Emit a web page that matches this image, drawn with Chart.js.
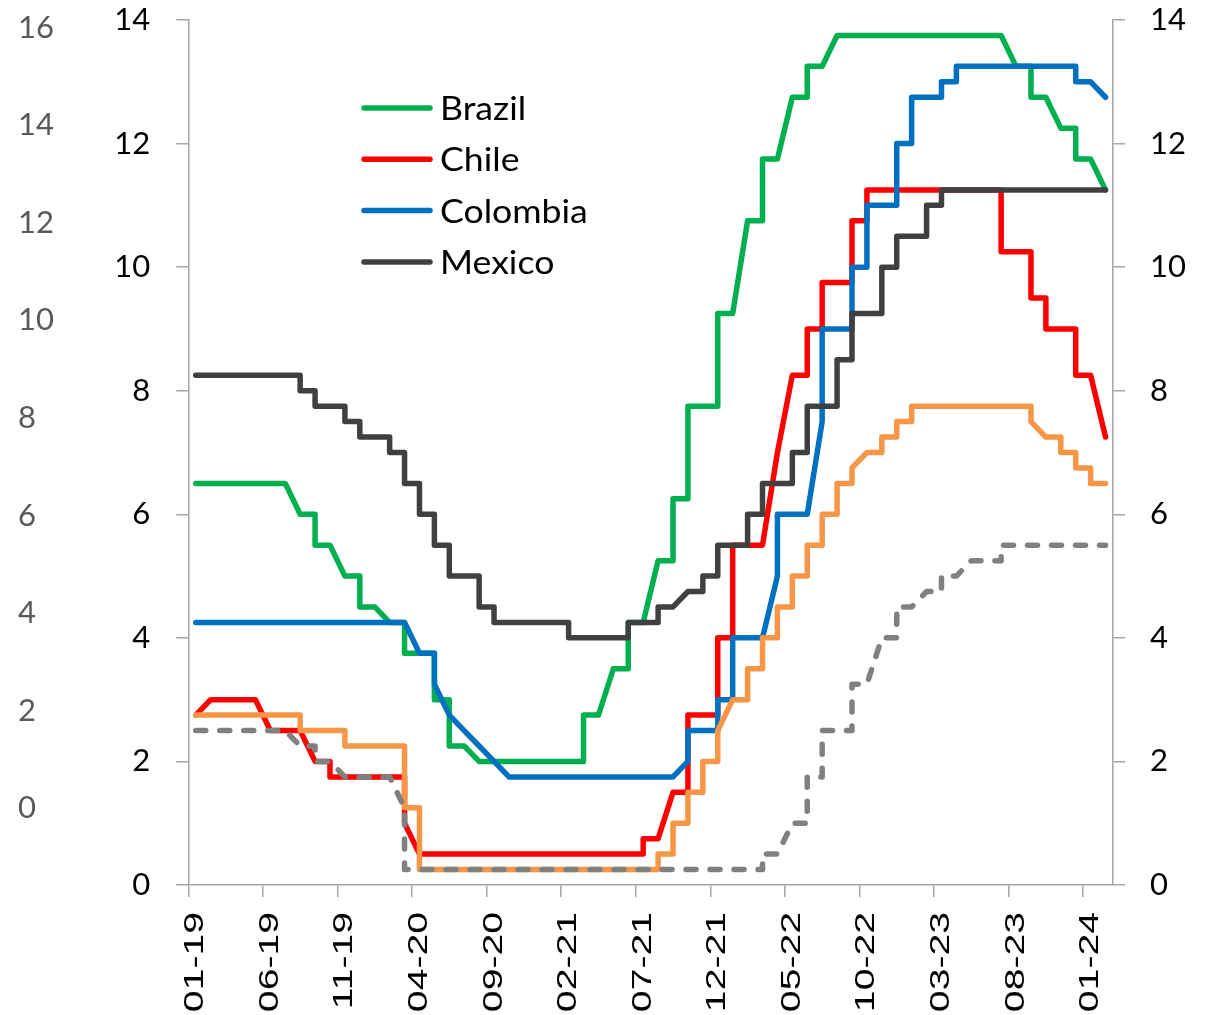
<!DOCTYPE html>
<html>
<head>
<meta charset="utf-8">
<title>Policy rates</title>
<script src="https://cdn.jsdelivr.net/npm/chart.js@4.4.1/dist/chart.umd.min.js"></script>
<style>
  html, body { margin: 0; padding: 0; background: #ffffff; }
  #wrap { width: 1218px; height: 1015px; }
</style>
</head>
<body>
<div id="wrap"><canvas id="chart" width="1218" height="1015"></canvas></div>
<script>
// Monthly policy rates, Jan 2019 .. Feb 2024 (one entry per month).
// A month with a rate decision lists the rate before and after it.
const brazil = [
  6.5, 6.5, 6.5, 6.5, 6.5, 6.5, 6.5, 6.0, [6.0, 5.5], 5.5, 5.0, [5.0, 4.5],
  4.5, 4.25, [4.25, 3.75], 3.75, [3.75, 3.0], [3.0, 2.25], 2.25, 2.0, 2.0, 2.0, 2.0, 2.0,
  2.0, 2.0, [2.0, 2.75], 2.75, 3.5, [3.5, 4.25], 4.25, 5.25, [5.25, 6.25], [6.25, 7.75], 7.75, [7.75, 9.25],
  9.25, 10.75, [10.75, 11.75], 11.75, 12.75, [12.75, 13.25], 13.25, 13.75, 13.75, 13.75, 13.75, 13.75,
  13.75, 13.75, 13.75, 13.75, 13.75, 13.75, 13.75, 13.25, [13.25, 12.75], 12.75, 12.25, [12.25, 11.75],
  11.75, 11.25
];
const chile = [
  2.75, 3.0, 3.0, 3.0, 3.0, 2.5, 2.5, 2.5, 2.0, [2.0, 1.75], 1.75, 1.75,
  1.75, 1.75, [1.75, 1.0], 0.5, 0.5, 0.5, 0.5, 0.5, 0.5, 0.5, 0.5, 0.5,
  0.5, 0.5, 0.5, 0.5, 0.5, 0.5, [0.5, 0.75], 0.75, 1.5, [1.5, 2.75], 2.75, [2.75, 4.0],
  [4.0, 5.5], 5.5, 5.5, 7.0, 8.25, [8.25, 9.0], [9.0, 9.75], 9.75, [9.75, 10.75], [10.75, 11.25], 11.25, 11.25,
  11.25, 11.25, 11.25, 11.25, 11.25, 11.25, [11.25, 10.25], 10.25, [10.25, 9.5], [9.5, 9.0], 9.0, [9.0, 8.25],
  8.25, 7.25
];
const colombia = [
  4.25, 4.25, 4.25, 4.25, 4.25, 4.25, 4.25, 4.25, 4.25, 4.25, 4.25, 4.25,
  4.25, 4.25, 4.25, 3.75, [3.75, 3.25], 2.75, 2.5, 2.25, 2.0, 1.75, 1.75, 1.75,
  1.75, 1.75, 1.75, 1.75, 1.75, 1.75, 1.75, 1.75, 1.75, [2.0, 2.5], 2.5, [2.5, 3.0],
  [3.0, 4.0], 4.0, 4.0, [5.0, 6.0], 6.0, 6.0, [7.5, 9.0], 9.0, [9.0, 10.0], [10.0, 11.0], 11.0, [11.0, 12.0],
  [12.0, 12.75], 12.75, [12.75, 13.0], [13.0, 13.25], 13.25, 13.25, 13.25, 13.25, 13.25, 13.25, 13.25, [13.25, 13.0],
  13.0, 12.75
];
const mexico = [
  8.25, 8.25, 8.25, 8.25, 8.25, 8.25, 8.25, [8.25, 8.0], [8.0, 7.75], 7.75, [7.75, 7.5], [7.5, 7.25],
  7.25, [7.25, 7.0], [7.0, 6.5], [6.5, 6.0], [6.0, 5.5], [5.5, 5.0], 5.0, [5.0, 4.5], [4.5, 4.25], 4.25, 4.25, 4.25,
  4.25, [4.25, 4.0], 4.0, 4.0, 4.0, [4.0, 4.25], 4.25, [4.25, 4.5], 4.5, 4.75, [4.75, 5.0], [5.0, 5.5],
  5.5, [5.5, 6.0], [6.0, 6.5], 6.5, [6.5, 7.0], [7.0, 7.75], 7.75, [7.75, 8.5], [8.5, 9.25], 9.25, [9.25, 10.0], [10.0, 10.5],
  10.5, [10.5, 11.0], [11.0, 11.25], 11.25, 11.25, 11.25, 11.25, 11.25, 11.25, 11.25, 11.25, 11.25,
  11.25, 11.25
];
const peru = [
  2.75, 2.75, 2.75, 2.75, 2.75, 2.75, 2.75, [2.75, 2.5], 2.5, 2.5, [2.5, 2.25], 2.25,
  2.25, 2.25, [2.25, 1.25], [1.25, 0.25], 0.25, 0.25, 0.25, 0.25, 0.25, 0.25, 0.25, 0.25,
  0.25, 0.25, 0.25, 0.25, 0.25, 0.25, 0.25, [0.25, 0.5], [0.5, 1.0], [1.0, 1.5], [1.5, 2.0], [2.0, 2.5],
  3.0, [3.0, 3.5], [3.5, 4.0], [4.0, 4.5], [4.5, 5.0], [5.0, 5.5], [5.5, 6.0], [6.0, 6.5], [6.5, 6.75], 7.0, [7.0, 7.25], [7.25, 7.5],
  [7.5, 7.75], 7.75, 7.75, 7.75, 7.75, 7.75, 7.75, 7.75, [7.75, 7.5], 7.25, [7.25, 7.0], [7.0, 6.75],
  [6.75, 6.5], 6.5
];
const usFed = [
  2.5, 2.5, 2.5, 2.5, 2.5, 2.5, 2.5, 2.25, [2.25, 2.0], 2.0, 1.75, 1.75,
  1.75, 1.75, [1.25, 0.25], 0.25, 0.25, 0.25, 0.25, 0.25, 0.25, 0.25, 0.25, 0.25,
  0.25, 0.25, 0.25, 0.25, 0.25, 0.25, 0.25, 0.25, 0.25, 0.25, 0.25, 0.25,
  0.25, 0.25, [0.25, 0.5], 0.5, 1.0, [1.0, 1.75], [1.75, 2.5], 2.5, [2.5, 3.25], 3.25, 4.0, [4.0, 4.5],
  4.5, 4.75, [4.75, 5.0], 5.0, 5.25, 5.25, [5.25, 5.5], 5.5, 5.5, 5.5, 5.5, 5.5,
  5.5, 5.5
];

// Axis ticks
const xTickValues = [0, 5, 10, 15, 20, 25, 30, 35, 40, 45, 50, 55, 60];
const xTickLabels = ['01-19', '06-19', '11-19', '04-20', '09-20', '02-21', '07-21',
                     '12-21', '05-22', '10-22', '03-23', '08-23', '01-24'];
const rateTicks = [0, 2, 4, 6, 8, 10, 12, 14];
const outerTicks = [0, 2, 4, 6, 8, 10, 12, 14, 16];

const legendNames = ['Brazil', 'Chile', 'Colombia', 'Mexico'];

// Every value of a month sits at the middle of that month.
function toPoints(series) {
  const pts = [];
  series.forEach((v, k) => {
    (Array.isArray(v) ? v : [v]).forEach(y => pts.push({ x: k + 0.5, y: y }));
  });
  return pts;
}

const AXIS_GREY = '#a6a6a6';
const LABEL_FONT = { family: 'Lato', size: 31 };

function line(label, series, color, order, dash) {
  return {
    label: label,
    data: toPoints(series),
    borderColor: color,
    backgroundColor: color,
    borderWidth: 5.5,
    borderDash: dash || [],
    borderCapStyle: 'round',
    borderJoinStyle: 'round',
    pointRadius: 0,
    pointHoverRadius: 0,
    tension: 0,
    fill: false,
    order: order,
    xAxisID: 'x',
    yAxisID: 'y'
  };
}

const datasets = [
  line('Brazil', brazil, '#00b050', 6),
  line('Chile', chile, '#ff0000', 5),
  line('Colombia', colombia, '#0070c0', 4),
  line('Mexico', mexico, '#404040', 3),
  line('Peru', peru, '#f79646', 2),
  line('United States', usFed, '#808080', 1, [10, 14])
];

// Legend drawn inside the plot area
const insideLegend = {
  id: 'insideLegend',
  afterDatasetsDraw(chart) {
    const ctx = chart.ctx;
    ctx.save();
    ctx.font = '33px Lato';
    ctx.fillStyle = '#000000';
    ctx.textAlign = 'left';
    ctx.textBaseline = 'alphabetic';
    legendNames.forEach((name, i) => {
      const ds = chart.data.datasets.find(d => d.label === name);
      const y = 108 + i * 51.3;
      ctx.strokeStyle = ds.borderColor;
      ctx.lineWidth = 5.5;
      ctx.lineCap = 'round';
      ctx.beginPath();
      ctx.moveTo(364, y);
      ctx.lineTo(430, y);
      ctx.stroke();
      ctx.save();
      ctx.translate(440, y + 12);
      ctx.scale(1.08, 1);
      ctx.fillText(name, 0, 0);
      ctx.restore();
    });
    ctx.restore();
  }
};

// Rotated month labels under the time axis
const monthLabels = {
  id: 'monthLabels',
  afterDraw(chart) {
    const s = chart.scales.x;
    const ctx = chart.ctx;
    ctx.save();
    ctx.font = '27px "Liberation Sans"';
    ctx.fillStyle = '#000000';
    ctx.textAlign = 'right';
    ctx.textBaseline = 'alphabetic';
    xTickValues.forEach((v, i) => {
      const px = s.getPixelForValue(v);
      ctx.save();
      ctx.translate(px + 15, s.top + 27);
      ctx.rotate(-Math.PI / 2);
      ctx.scale(1.45, 1);
      ctx.fillText(xTickLabels[i], 0, 0);
      ctx.restore();
    });
    ctx.restore();
  }
};

const fixedTicks = list => scale => { scale.ticks = list.map(v => ({ value: v })); };

// Fixed axis box sizes; label overhang must not push the plot area inwards.
const fixSize = (w, h) => scale => {
  if (w !== null) scale.width = w;
  if (h !== null) scale.height = h;
  scale.paddingTop = 0;
  scale.paddingBottom = 0;
  scale.paddingLeft = 0;
  scale.paddingRight = 0;
};

new Chart(document.getElementById('chart'), {
  type: 'line',
  data: { datasets: datasets },
  plugins: [insideLegend, monthLabels],
  options: {
    responsive: false,
    animation: false,
    events: [],
    layout: { padding: { left: 18, top: 20, right: 0, bottom: 0 } },
    plugins: { legend: { display: false }, tooltip: { enabled: false } },
    scales: {
      x: {
        type: 'linear',
        position: 'bottom',
        min: 0,
        max: 62,
        afterBuildTicks: fixedTicks(xTickValues),
        afterFit: fixSize(null, 130),
        ticks: { display: false },
        grid: { drawOnChartArea: false, drawTicks: true, tickLength: 12, color: AXIS_GREY, lineWidth: 1.5 },
        border: { display: true, color: AXIS_GREY, width: 1.5 }
      },
      yOuter: {
        type: 'linear',
        position: 'left',
        weight: 1,
        min: -1.573,
        max: 16.16,
        afterBuildTicks: fixedTicks(outerTicks),
        afterFit: fixSize(82, null),
        ticks: { crossAlign: 'far', color: '#595959', font: LABEL_FONT, padding: 0, autoSkip: false },
        grid: { display: false },
        border: { display: false }
      },
      y: {
        type: 'linear',
        position: 'left',
        weight: 0,
        min: 0,
        max: 14,
        afterBuildTicks: fixedTicks(rateTicks),
        afterFit: fixSize(88.3, null),
        ticks: { color: '#000000', font: LABEL_FONT, padding: 26, autoSkip: false },
        grid: { drawOnChartArea: false, drawTicks: true, tickLength: 12, color: AXIS_GREY, lineWidth: 1.5 },
        border: { display: true, color: AXIS_GREY, width: 1.5 }
      },
      y2: {
        type: 'linear',
        position: 'right',
        min: 0,
        max: 14,
        afterBuildTicks: fixedTicks(rateTicks),
        afterFit: fixSize(105, null),
        ticks: { color: '#000000', font: LABEL_FONT, padding: 25, autoSkip: false },
        grid: { drawOnChartArea: false, drawTicks: true, tickLength: 12, color: AXIS_GREY, lineWidth: 1.5 },
        border: { display: true, color: AXIS_GREY, width: 1.5 }
      }
    }
  }
});
</script>
</body>
</html>
